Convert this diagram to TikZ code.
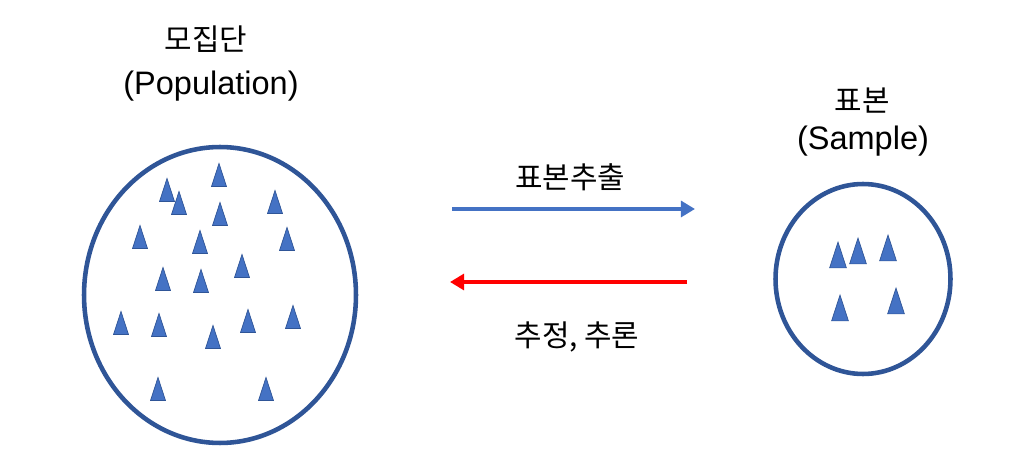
\documentclass[tikz,border=0pt]{standalone}
\usepackage{fontspec}
\setmainfont{Liberation Sans}
\newfontfamily\kr{Noto Sans CJK KR}
\usetikzlibrary{arrows.meta,shapes.geometric}
\definecolor{RimClr}{RGB}{47,85,151}
\definecolor{DotClr}{RGB}{68,114,196}
\definecolor{RedClr}{RGB}{255,0,0}

\tikzset{
  rim/.style={ellipse,draw=RimClr,line width=2.6pt,inner sep=0pt},
  lbl/.style={font=\fontsize{18.5}{22}\selectfont,inner sep=0pt},
  krlbl/.style={font=\kr\fontsize{17}{20}\selectfont,inner sep=0pt},
  flow/.style={line width=2.6pt,-{Triangle[length=8pt,width=9pt]}},
}
% one small triangle: x, y, size factor
\newcommand{\tri}[3]{%
  \filldraw[fill=DotClr,draw=RimClr,line width=.4pt]
    (#1-7.5*#3,#2+11.5*#3) -- (#1,#2-11.5*#3) -- (#1+7.5*#3,#2+11.5*#3) -- cycle;}

\begin{document}
\begin{tikzpicture}[x=0.02cm,y=-0.02cm]
\useasboundingbox (0,0) rectangle (1021,469);

% population and sample
\node[rim,minimum width=5.44cm,minimum height=5.92cm] (pop) at (220,295) {};
\node[rim,minimum width=3.5cm,minimum height=3.8cm] (smp) at (863,279) {};

\foreach \x/\y in {167/190,179/203,219/175,220/214,275/202,140/237,
  200/242,287/239,242/266,163/279,201/281,121/323,159/325,248/321,
  293/317,213/337,158/389,266/389}
  {\tri{\x}{\y}{1}}
\foreach \x/\y in {838/255,858/251,888/248,840/308,896/301}
  {\tri{\x}{\y}{1.12}}

% titles
\node[krlbl] (popkr) at (206,39) {모집단};
\node[lbl] (popen) at (211,86) {(Population)};
\node[krlbl] (smpkr) at (862,101) {표본};
\node[lbl] (smpen) at (863,141) {(Sample)};

% arrows
\coordinate (drawA) at (452,209);
\coordinate (drawB) at (695,209);
\coordinate (infA) at (687,282);
\coordinate (infB) at (450,282);
\draw[flow,DotClr] (drawA) -- (drawB);
\draw[flow,RedClr] (infA) -- (infB);
\node[krlbl] (drawlbl) at (570,177) {표본추출};
\node[krlbl] (inflbl) at (577,337) {추정, 추론};

\end{tikzpicture}
\end{document}
